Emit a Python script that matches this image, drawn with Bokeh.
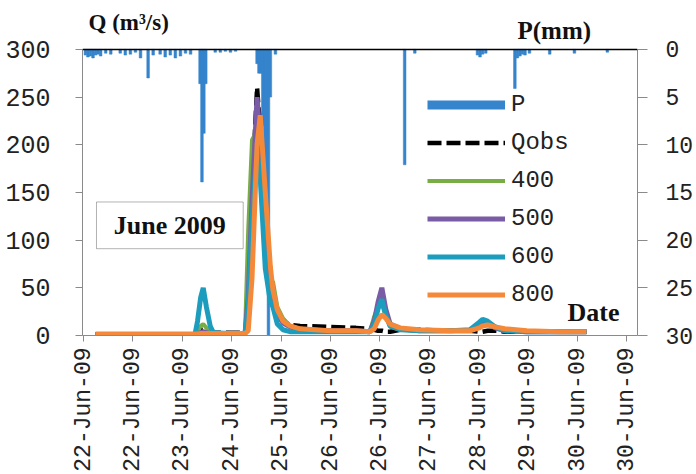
from math import pi
from bokeh.plotting import figure
from bokeh.models import (Range1d, LinearAxis, FixedTicker, Span, Label,
                          BoxAnnotation, Legend, LegendItem)
from bokeh.embed import file_html
from bokeh.resources import INLINE

# ---------------- data ----------------
# x in days of June 2009 (fractional)
tick_pos = [round(22.2 + 0.78 * i, 2) for i in range(12)]
tick_labels = ["22-Jun-09", "22-Jun-09", "23-Jun-09", "24-Jun-09", "25-Jun-09",
               "26-Jun-09", "26-Jun-09", "27-Jun-09", "28-Jun-09", "29-Jun-09",
               "30-Jun-09", "30-Jun-09"]
q_ticks = [0, 50, 100, 150, 200, 250, 300]
p_ticks = [0, 5, 10, 15, 20, 25, 30]

t = [22.39, 23.00, 23.90, 23.96, 24.00, 24.05, 24.09, 24.14, 24.20, 24.25, 24.50,
     24.75, 24.80, 24.86, 24.94, 24.99, 25.07, 25.15, 25.19, 25.26, 25.35, 25.46,
     25.62, 26.09, 26.50, 26.72, 26.79, 26.85, 26.91, 26.97, 27.04, 27.20, 27.50,
     28.00, 28.30, 28.45, 28.50, 28.58, 28.70, 28.85, 29.20, 29.70, 30.14]

q_obs = [1, 1, 1, 1.5, 3, 6, 7, 5, 3, 3, 3,
         3, 12, 150, 260, 215, 120, 55, 38, 24, 15, 11,
         10, 9, 8, 7, 6, 5, 5, 4, 4, 6, 6,
         5, 5, 4, 4, 5, 5, 4, 4, 4, 4]
q_400 = [1, 1, 1, 1, 4, 10, 12, 8, 4, 2, 2,
         3, 110, 205, 215, 175, 90, 42, 57, 30, 18, 10,
         7, 5, 5, 4, 20, 30, 33, 20, 9, 6, 5,
         5, 5, 11, 13, 12, 8, 5, 4, 4, 4]
q_500 = [1, 1, 1, 1, 2, 3, 4, 3, 2, 2, 2,
         2, 40, 140, 250, 205, 105, 48, 35, 22, 13, 9,
         6, 5, 5, 4, 15, 35, 50, 28, 12, 7, 5,
         5, 5, 12, 15, 13, 8, 5, 4, 4, 4]
q_600 = [1, 1, 1, 1, 15, 40, 50, 30, 10, 3, 2,
         2, 30, 120, 195, 165, 70, 35, 30, 12, 6, 4,
         4, 4, 4, 4, 12, 28, 38, 22, 10, 6, 5,
         5, 6, 14, 17, 15, 9, 5, 4, 4, 4]
q_800 = [1.5, 1.5, 1.5, 1.5, 1.5, 2, 2, 2, 2, 2, 2,
         2, 5, 60, 200, 231, 150, 72, 48, 27, 15, 10,
         7, 5, 5, 4, 7, 16, 22, 18, 12, 8, 6,
         5, 5, 8, 10, 11, 9, 7, 5, 4, 4]

p_t = [22.23, 22.27, 22.31, 22.35, 22.39, 22.43, 22.47, 22.55, 22.63, 22.78,
       22.86, 22.94, 23.02, 23.10, 23.22, 23.30, 23.41, 23.49, 23.57, 23.65,
       23.73, 23.81, 23.89, 24.04, 24.07, 24.10, 24.13, 24.28, 24.36, 24.44,
       24.52, 24.60, 24.94, 24.97, 25.00, 25.03, 25.06, 25.09, 25.12, 25.15,
       25.23, 27.27, 27.43, 28.42, 28.46, 28.50, 28.55, 29.01, 29.05, 29.09,
       29.13, 29.17, 29.24, 29.56, 29.95, 30.47]
p_mm = [0.6, 0.8, 0.7, 0.9, 0.6, 0.5, 0.7, 0.4, 0.5, 0.4,
        0.6, 0.5, 0.3, 0.9, 3.0, 0.6, 0.5, 0.8, 0.6, 0.9,
        0.7, 0.4, 0.5, 3.6, 13.9, 8.8, 3.6, 0.3, 0.3, 0.2,
        0.3, 0.2, 1.5, 2.5, 2.5, 8.0, 18.0, 15.0, 30.0, 5.0,
        0.5, 12.1, 0.4, 0.6, 0.8, 0.5, 0.4, 4.1, 0.9, 0.7,
        0.5, 0.6, 0.4, 0.5, 0.4, 0.3]

# ---------------- styles ----------------
C_P = "#3584CC"
C_400 = "#78AC45"
C_500 = "#7A5BA5"
C_600 = "#1C9DBD"
C_800 = "#F5893A"
AX = "#8A8A8A"
TXT = "#222222"
MONO = "Liberation Mono"
SERIF = "Liberation Serif"

# frame extends above the 300 line so the unit captions stay inside it
Q_TOP = 300 * 328 / 287.0
P_TOP = 30 - 30 * 328 / 287.0

p = figure(width=696, height=474, output_backend="svg", toolbar_location=None,
           x_range=Range1d(22.184, 30.946), y_range=Range1d(0, Q_TOP),
           min_border_left=82, min_border_right=58, min_border_top=8,
           min_border_bottom=138)
p.outline_line_color = None
p.xgrid.visible = False
p.ygrid.visible = False
p.background_fill_color = "white"

p.extra_y_ranges = {"p": Range1d(start=30, end=P_TOP)}

# precipitation bars hanging from top
p.vbar(x=p_t, top=p_mm, bottom=0, width=0.042, y_range_name="p",
       fill_color=C_P, line_color=C_P, line_width=0.5)
nan = float("nan")
p_leg = p.line(x=[nan, nan], y=[nan, nan], line_color=C_P, line_width=9)

r_obs = p.line(t, q_obs, line_color="black", line_width=4.5, line_dash="14 5")
r_400 = p.line(t, q_400, line_color=C_400, line_width=4)
r_500 = p.line(t, q_500, line_color=C_500, line_width=5)
r_600 = p.line(t, q_600, line_color=C_600, line_width=5)
r_800 = p.line(t, q_800, line_color=C_800, line_width=5)

# axes
xa = p.xaxis[0]
xa.ticker = FixedTicker(ticks=tick_pos)
xa.major_label_overrides = dict(zip(tick_pos, tick_labels))
xa.major_label_orientation = pi / 2
xa.major_label_text_font = MONO
xa.major_label_text_font_size = "23px"
xa.major_label_text_color = TXT
xa.axis_line_color = AX
xa.major_tick_line_color = AX
xa.major_tick_out = 6
xa.major_tick_in = 0
xa.minor_tick_line_color = None
xa.major_label_standoff = 6

ya = p.yaxis[0]
ya.ticker = FixedTicker(ticks=q_ticks)
ya.bounds = (0, 300)
ya.major_label_text_font = MONO
ya.major_label_text_font_size = "25px"
ya.major_label_text_color = TXT
ya.axis_line_color = AX
ya.major_tick_line_color = AX
ya.major_tick_out = 7
ya.major_tick_in = 0
ya.minor_tick_line_color = None
ya.major_label_standoff = 25

ra = LinearAxis(y_range_name="p", ticker=FixedTicker(ticks=p_ticks), bounds=(0, 30))
ra.major_label_text_font = MONO
ra.major_label_text_font_size = "23px"
ra.major_label_text_color = TXT
ra.major_label_text_align = "left"
ra.axis_line_color = AX
ra.major_tick_line_color = AX
ra.major_tick_out = 10
ra.major_tick_in = 0
ra.minor_tick_line_color = None
ra.major_label_standoff = 18
p.add_layout(ra, "right")

# top black line (secondary horizontal axis)
p.add_layout(Span(location=300, dimension="width", line_color="black", line_width=1.5))

# annotations
p.add_layout(Label(x=6, y=301, x_units="screen", y_units="screen", text="Q (m³/s)",
                   text_font=SERIF, text_font_style="bold", text_font_size="23px",
                   text_color="#111111"))
p.add_layout(Label(x=435, y=292, x_units="screen", y_units="screen", text="P(mm)",
                   text_font=SERIF, text_font_style="bold", text_font_size="25px",
                   text_color="#111111"))
p.add_layout(Label(x=485, y=9, x_units="screen", y_units="screen", text="Date",
                   text_font=SERIF, text_font_style="bold", text_font_size="26px",
                   text_color="#111111"))
p.add_layout(BoxAnnotation(left=22.405, right=24.721, bottom=91, top=140,
                           fill_alpha=0, line_color="black", line_width=1))
p.add_layout(Label(x=23.563, y=115.5, text="June 2009", text_align="center",
                   text_baseline="middle", text_font=SERIF, text_font_style="bold",
                   text_font_size="26px", text_color="#111111"))

legend = Legend(items=[
    LegendItem(label="P", renderers=[p_leg]),
    LegendItem(label="Qobs", renderers=[r_obs]),
    LegendItem(label="400", renderers=[r_400]),
    LegendItem(label="500", renderers=[r_500]),
    LegendItem(label="600", renderers=[r_600]),
    LegendItem(label="800", renderers=[r_800]),
], location=(345, 25), padding=0, margin=0, spacing=7,
    glyph_width=78, glyph_height=31, label_height=31, label_standoff=6,
    label_text_font=MONO, label_text_font_size="24px", label_text_color=TXT,
    border_line_alpha=0, background_fill_alpha=0)
p.add_layout(legend, "center")

open("out.html", "w").write(file_html(p, INLINE))
